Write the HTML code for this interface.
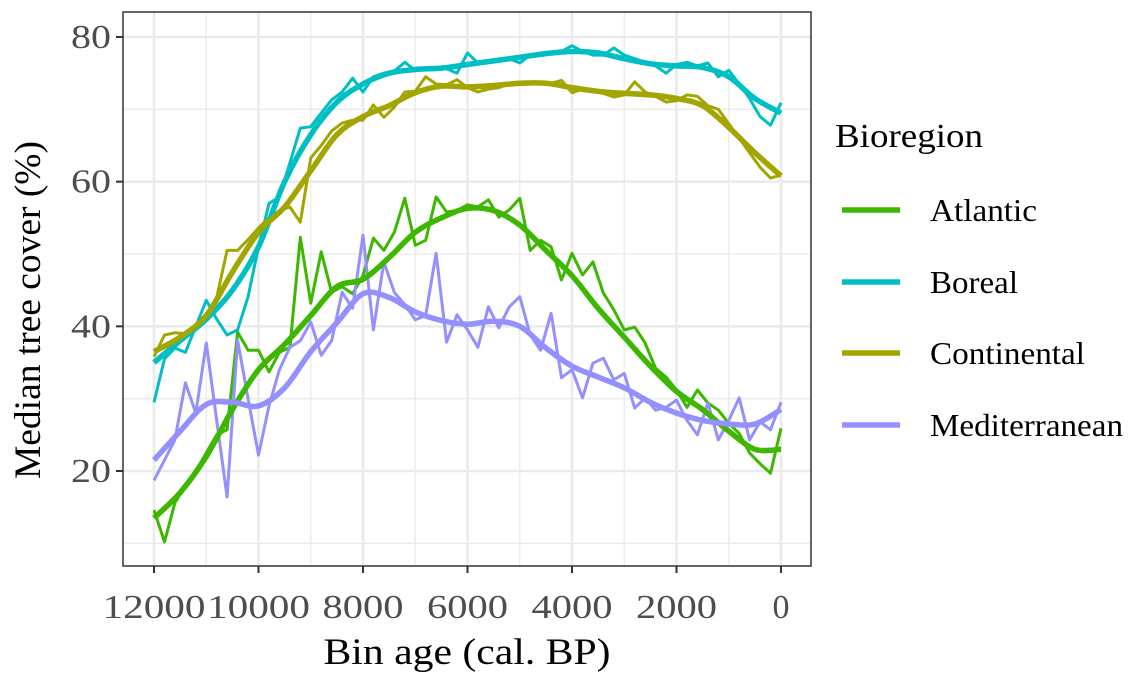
<!DOCTYPE html>
<html><head><meta charset="utf-8">
<style>
html,body{margin:0;padding:0;background:#fff;}
svg{display:block;font-family:"Liberation Serif",serif;}
</style></head>
<body>
<svg id="chart" width="1136" height="685" viewBox="0 0 1136 685"></svg>
<script>
const ages = [];
for (let a = 12000; a >= 0; a -= 200) ages.push(a);
const smoothAges = [12000,11500,11000,10500,10000,9500,9000,8500,8000,7500,7000,6500,6000,5500,5000,4500,4000,3500,3000,2500,2000,1500,1000,500,0];
const seriesNames = ["Atlantic","Boreal","Continental","Mediterranean"];
const xTicks = [12000,10000,8000,6000,4000,2000,0];
const yTicks = [20,40,60,80];
const atlanticRaw = [14.6,10.2,15.6,18,20,22.5,25,25.7, 39.2,36.7,36.7,33.7,36.4,37.1,52.3,43.2, 50.3,44.7,45.5,44.5,47,52.2,50.5,53, 57.7,51.2,51.9,57.9,55.8,56,56.8,56.5, 57.5,55.1,56.1,57.7,50.5,51.9,51,46.4, 50.1,47.1,48.9,44.6,42.3,39.5,39.9,37.7, 34.2,33,31.2,28.8,31.2,29.4,28.4,26.6, 25.2,22.5,21,19.7,25.9];
const borealRaw = [29.5,35.5,37,36.4,40,43.6,41,38.8, 39.5,44.1,51,57,57.9,62.6,67.4,67.6, 69.5,71.3,72.4,74.3,72.4,74.5,75,75.3, 76.5,75.4,75.5,75.5,75.6,75,77.8,76.4, 76.5,76.8,77,76.4,77.5,77.6,77.8,78, 78.8,78,77.5,77.5,78.5,77.5,77,76.5, 76,75,76.2,76.5,76,76.4,74.5,75.4, 73.5,71.5,69,67.8,70.9];
const continentalRaw = [35.8,38.8,39.1,39,40,41.5,44,50.5, 50.5,52,53.6,55,56,56.5,54.4,63.3, 65,67,68.1,68.5,68.5,70.6,68.9,70.3, 72.4,72.5,74.5,73.5,73.4,74.1,73,72.4, 72.8,73,73.5,73.5,73.5,73.5,73.6,74, 72.3,72.8,72.5,72.2,71.7,72,73.8,72.4, 71.8,71,71.2,72,71.8,70.5,70,68, 66,64,62,60.5,60.9];
const mediterraneanRaw = [18.7,21.5,24.3,32.2,28,37.7,27,16.4, 38.1,30,22.2,29,34,37.1,38,40.6, 36,38,44.7,42.5,52.6,39.5,48.9,44.7, 43,40.9,41.5,50.1,37.8,41.6,39.5,37.1, 42.7,39.8,42.7,44.1,38.8,36.7,41.8,32.9, 34,30.1,34.9,35.6,32.6,33.5,28.7,30.1, 28.4,28.8,29.8,27,25,29.4,24.3,27, 30.1,24.3,26.8,25.7,29.5];
const atlanticSmooth = [13.5,17,22,28.5,34,37.5,41.5,45.5,46.5,49.5,53,55,56.3,56,54,50.5,47,42.5,38.5,34.5,31,28.5,25.5,23,23];
const borealSmooth = [35,38,41,45,51,60,66.5,71,73.5,75,75.5,75.7,76.2,76.7,77.2,77.7,78,77.8,77,76.3,76,75.8,74.5,71.5,69.5];
const continentalSmooth = [36.5,38.5,41.5,47.5,53,56.5,61.5,66.5,69,70.5,72.3,73.2,73.1,73.3,73.6,73.6,73,72.5,72.2,72,71.5,70.5,67.5,64,60.8];
const mediterraneanSmooth = [21.5,25.5,29.2,29.5,29.0,31.5,36.5,40.5,44.5,44.0,42.0,40.8,40.3,40.7,40.0,37.0,34.5,33.0,31.5,29.5,28.0,27.0,26.5,26.5,28.5];

const NS = "http://www.w3.org/2000/svg";
const svg = document.getElementById("chart");
const P = {l:123, r:811, t:12, b:566};
function xs(a){ return 781 - (a/12000)*627; }
function ys(v){ return 37 + (80 - v)*(434/60); }
function mk(tag, attrs, parent){
  const e = document.createElementNS(NS, tag);
  for (const k in attrs) e.setAttribute(k, attrs[k]);
  (parent||svg).appendChild(e);
  return e;
}
const colors = ["#3DB700","#00BFC4","#A3A500","#9590FF"];
const raws = [atlanticRaw, borealRaw, continentalRaw, mediterraneanRaw];
const smooths = [atlanticSmooth, borealSmooth, continentalSmooth, mediterraneanSmooth];

const grid = mk("g", {});


for (let v = 10; v <= 80; v += 10) {
  const major = v % 20 === 0;
  mk("line", {x1:P.l, x2:P.r, y1:ys(v), y2:ys(v), stroke:"#EBEBEB", "stroke-width": major?2.6:1.3}, grid);
}
for (let a = 0; a <= 12000; a += 1000) {
  const major = a % 2000 === 0;
  mk("line", {x1:xs(a), x2:xs(a), y1:P.t, y2:P.b, stroke:"#EBEBEB", "stroke-width": major?2.6:1.3}, grid);
}

function pathLinear(xsArr, vals){
  return vals.map((v,i)=>(i?"L":"M")+xs(xsArr[i]).toFixed(1)+","+ys(v).toFixed(1)).join("");
}
function pathSmooth(xsArr, vals){
  const pts = vals.map((v,i)=>[xs(xsArr[i]), ys(v)]);
  let d = "M"+pts[0][0].toFixed(1)+","+pts[0][1].toFixed(1);
  for (let i=0;i<pts.length-1;i++){
    const p0 = pts[Math.max(0,i-1)], p1 = pts[i], p2 = pts[i+1], p3 = pts[Math.min(pts.length-1,i+2)];
    const c1 = [p1[0]+(p2[0]-p0[0])/6, p1[1]+(p2[1]-p0[1])/6];
    const c2 = [p2[0]-(p3[0]-p1[0])/6, p2[1]-(p3[1]-p1[1])/6];
    d += "C"+c1[0].toFixed(1)+","+c1[1].toFixed(1)+" "+c2[0].toFixed(1)+","+c2[1].toFixed(1)+" "+p2[0].toFixed(1)+","+p2[1].toFixed(1);
  }
  return d;
}
const plot = mk("g", {});


for (let s = 0; s < 4; s++) {
  const raw = mk("path", {d:pathLinear(ages, raws[s]), fill:"none", stroke:colors[s], "stroke-width":3, "stroke-linejoin":"round"}, plot);
  
  
}
for (let s = 0; s < 4; s++) {
  const sm = mk("path", {d:pathSmooth(smoothAges, smooths[s]), fill:"none", stroke:colors[s], "stroke-width":5.5, "stroke-linecap":"butt"}, plot);
  
  
}
const border = mk("rect", {x:P.l, y:P.t, width:P.r-P.l, height:P.b-P.t, fill:"none", stroke:"#333333", "stroke-width":1.5});



for (const v of yTicks) {
  const t = mk("line", {x1:P.l-7, x2:P.l, y1:ys(v), y2:ys(v), stroke:"#333", "stroke-width":2});
  
  
  const tx = mk("text", {x:P.l-12, y:ys(v)+11, "text-anchor":"end", "font-size":34, fill:"#4D4D4D", textLength:40, lengthAdjust:"spacingAndGlyphs"});
  tx.textContent = v;
  
  
}
for (const a of xTicks) {
  const t = mk("line", {x1:xs(a), x2:xs(a), y1:P.b, y2:P.b+7, stroke:"#333", "stroke-width":2});
  
  
  const attrs = {x:xs(a), y:618, "text-anchor":"middle", "font-size":34, fill:"#4D4D4D"};
  if (a >= 10000) { attrs.textLength = 103; attrs.lengthAdjust = "spacingAndGlyphs"; }
  else if (a > 0) { attrs.textLength = 81; attrs.lengthAdjust = "spacingAndGlyphs"; }
  const tx = mk("text", attrs);
  tx.textContent = a;
  
  
}
const xt = mk("text", {x:467, y:664, "text-anchor":"middle", "font-size":37, fill:"#000", textLength:287, lengthAdjust:"spacingAndGlyphs"});
xt.textContent = "Bin age (cal. BP)";


const yt = mk("text", {x:0, y:0, "text-anchor":"middle", "font-size":37, fill:"#000", transform:"translate(40,310) rotate(-90)", textLength:338, lengthAdjust:"spacingAndGlyphs"});
yt.textContent = "Median tree cover (%)";



const lg = mk("g", {});


const lt = mk("text", {x:835, y:147, "font-size":34, fill:"#000", textLength:148, lengthAdjust:"spacingAndGlyphs"}, lg);
lt.textContent = "Bioregion";


const legY = [210, 282, 353, 425];
const legW = [107, 88, 155, 193];
for (let s = 0; s < 4; s++) {
  const ln = mk("line", {x1:842, x2:900, y1:legY[s], y2:legY[s], stroke:colors[s], "stroke-width":5.5}, lg);
  
  
  const tx = mk("text", {x:930, y:legY[s]+11, "font-size":32, fill:"#000", textLength:legW[s], lengthAdjust:"spacingAndGlyphs"}, lg);
  tx.textContent = seriesNames[s];
  
  
}
</script>
</body></html>
